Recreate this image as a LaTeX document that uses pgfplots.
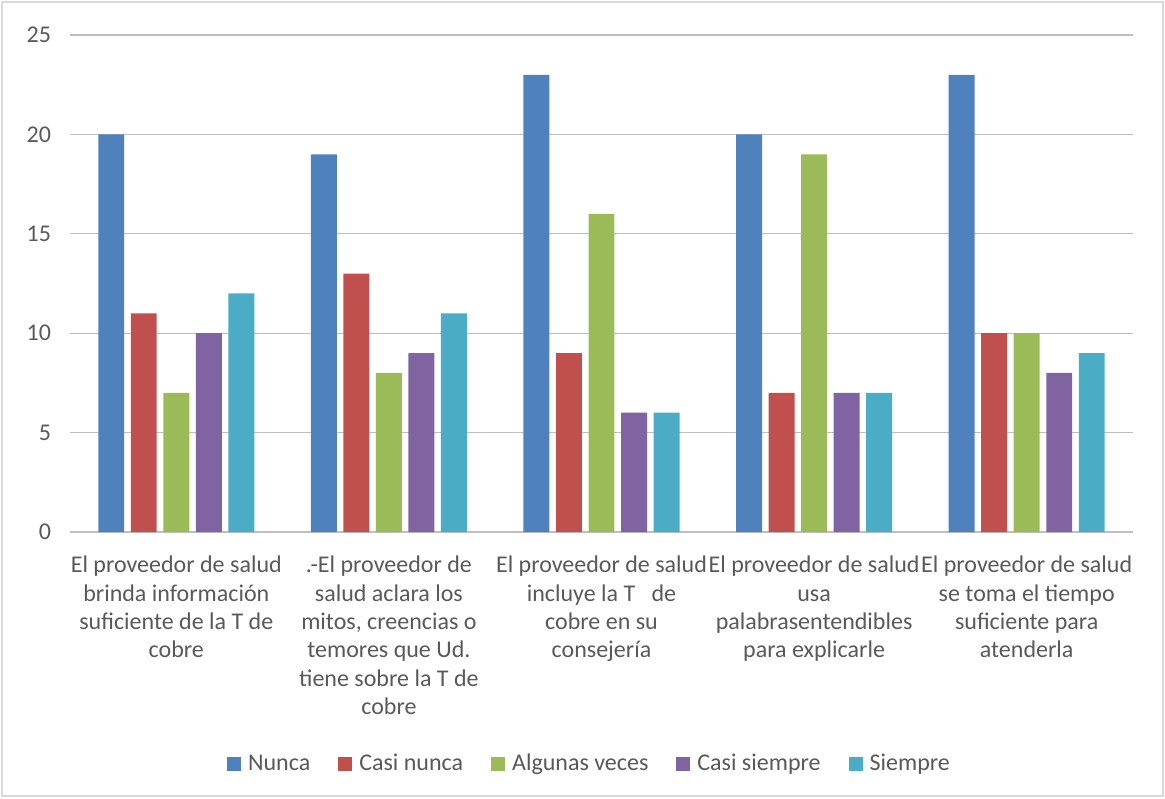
\documentclass[border=0pt]{standalone}
\usepackage{pgfplots}
\pgfplotsset{compat=1.18}
\usepackage{fontspec}
\setmainfont{Carlito}
\definecolor{txt}{HTML}{595959}
\definecolor{grid}{HTML}{D9D9D9}
\definecolor{baseline}{HTML}{BFBFBF}
\definecolor{frame}{HTML}{D9D9D9}
\definecolor{cNunca}{HTML}{4F81BD}
\definecolor{cCasiNunca}{HTML}{C0504D}
\definecolor{cAlgunas}{HTML}{9BBB59}
\definecolor{cCasiSiempre}{HTML}{8064A2}
\definecolor{cSiempre}{HTML}{4BACC6}
\newcommand{\lblfont}{\fontsize{12}{14.2}\selectfont}
\begin{document}
\begin{tikzpicture}[x=0.5pt,y=0.5pt]
% page area and thin outer frame
\useasboundingbox (-70,-266) rectangle (1095,532);
\draw[frame, line width=0.8pt] (-68,-264) rectangle (1093,530);
\begin{axis}[
  at={(0,0)}, anchor=south west,
  scale only axis,
  width=531.5pt, height=248.5pt,
  ymin=0, ymax=25, ytick={0,5,10,15,20,25},
  xmin=-0.5, xmax=4.5,
  xtick={0,1,2,3,4},
  xticklabels={
    {El proveedor de salud\\brinda información\\suficiente de la T de\\cobre},
    {.-El proveedor de\\salud aclara los\\mitos, creencias o\\temores que Ud.\\tiene sobre la T de\\cobre},
    {El proveedor de salud\\incluye la T\ \ \ de\\cobre en su\\consejería},
    {El proveedor de salud\\usa\\palabrasentendibles\\para explicarle},
    {El proveedor de salud\\se toma el tiempo\\suficiente para\\atenderla}},
  xticklabel style={align=center, font=\lblfont, text=txt, anchor=north, yshift=-8.5pt},
  yticklabel style={font=\lblfont, text=txt, xshift=-6pt},
  /pgf/number format/assume math mode=true,
  major tick length=0pt,
  ymajorgrids, xmajorgrids=false,
  grid style={grid, line width=0.6pt},
  axis lines*=left,
  y axis line style={draw=none},
  x axis line style={draw=baseline, line width=0.6pt, -},
  ybar, bar width=0.122,
  enlarge x limits=false,
  legend columns=5,
  legend style={at={(0.5,0)}, anchor=center, xshift=-5.5pt, yshift=-116pt, draw=none,
    font=\lblfont, text=txt,
    /tikz/every odd column/.append style={column sep=1.5pt},
    /tikz/every even column/.append style={column sep=12pt}},
  legend image code/.code={\fill[#1] (0pt,-3.5pt) rectangle (7pt,3.5pt);},
]
\addplot[fill=cNunca, draw=none, bar shift=-0.306] coordinates {(0,20) (1,19) (2,23) (3,20) (4,23)};
\addplot[fill=cCasiNunca, draw=none, bar shift=-0.153] coordinates {(0,11) (1,13) (2,9) (3,7) (4,10)};
\addplot[fill=cAlgunas, draw=none, bar shift=0] coordinates {(0,7) (1,8) (2,16) (3,19) (4,10)};
\addplot[fill=cCasiSiempre, draw=none, bar shift=0.153] coordinates {(0,10) (1,9) (2,6) (3,7) (4,8)};
\addplot[fill=cSiempre, draw=none, bar shift=0.306] coordinates {(0,12) (1,11) (2,6) (3,7) (4,9)};
\legend{Nunca, Casi nunca, Algunas veces, Casi siempre, Siempre}
\end{axis}
\end{tikzpicture}
\end{document}
